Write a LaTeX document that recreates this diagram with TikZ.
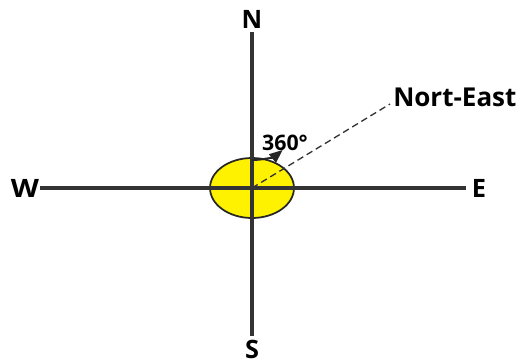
\documentclass[tikz,border=0pt]{standalone}
\usepackage{fontspec}
\setmainfont{Open Sans}
\usetikzlibrary{arrows.meta}
\begin{document}
\begin{tikzpicture}[x=0.75pt,y=-0.75pt,
  axis/.style={draw=black!80, line width=2.4pt},
  lbl/.style={font=\bfseries\fontsize{19}{20}\selectfont, inner sep=0pt},
  small/.style={font=\bfseries\fontsize{16}{17}\selectfont, inner sep=0pt}]
\useasboundingbox (0,0) rectangle (526,364);
\coordinate (O) at (252,188);
\node[lbl] (N) at (252,19) {N};
\node[lbl] (S) at (252,349) {S};
\node[lbl, xscale=1.15] (W) at (25,188) {W};
\node[lbl] (E) at (479,188) {E};
\draw[fill=yellow, draw=black!85, line width=1.3pt] (O) ellipse [x radius=42, y radius=30];
\coordinate (Ntop) at (252,32);
\coordinate (Sbot) at (252,336);
\coordinate (Wl) at (40,188);
\coordinate (Er) at (466,188);
\draw[axis] (Ntop) -- (Sbot);
\draw[axis] (Wl) -- (Er);
\node[font=\bfseries\fontsize{19.5}{20}\selectfont, inner sep=0pt, anchor=west] (NE) at (393,97) {Nort-East};
\coordinate (Dend) at (390,104);
\draw[dashed, draw=black!80, line width=1pt, dash pattern=on 5pt off 3pt] (O) -- (Dend);
\node[small] (deg) at (285,143) {360°};
\draw[draw=black!85, line width=1.5pt, -{Triangle[length=10pt,width=8pt]}] (252,160) arc[start angle=90, end angle=40, x radius=40, y radius=28];
\end{tikzpicture}
\end{document}
